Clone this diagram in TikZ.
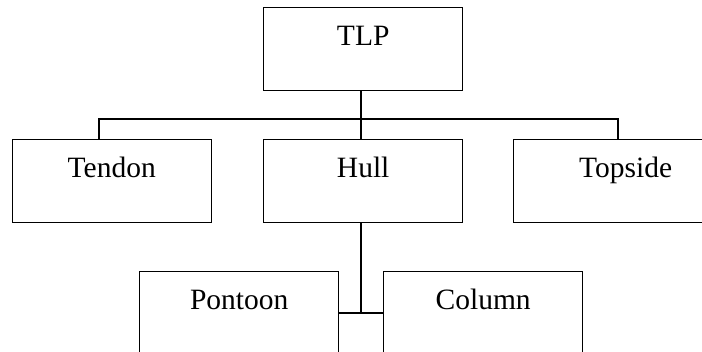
\documentclass[tikz,border=0pt]{standalone}
\usepackage{fontspec}
\setmainfont{Liberation Serif}
\begin{document}
\begin{tikzpicture}[x=1pt,y=-1pt,
  box/.style={draw,line width=1.4pt,rectangle,anchor=north west,
    minimum width=199pt,minimum height=83pt,inner xsep=0pt,inner ysep=0pt,
    text height=38pt,text depth=45pt,
    font=\fontsize{29.5}{35}\selectfont},
  link/.style={line width=1.4pt}]
\path[use as bounding box,clip] (0,0) rectangle (702,352);
\fill[white] (0,0) rectangle (702,352);
\node[box] (tlp) at (263,7) {TLP};
\node[box] (tendon) at (11.5,139) {Tendon};
\node[box] (hull) at (263,139) {Hull};
\node[box,minimum width=224pt] (topside) at (513,139) {Topside};
\node[box] (pontoon) at (139,271) {Pontoon};
\node[box] (column) at (383,271) {Column};
\coordinate (busL) at (99,119);
\coordinate (busR) at (618,119);
\coordinate (j) at (361,313);
\draw[link] (tlp.south -| j) -- (hull.north -| j);
\draw[link] (tendon.north -| busL) -- (busL) -- (busR) -- (topside.north -| busR);
\draw[link] (hull.south -| j) -- (j);
\draw[link] (j -| pontoon.east) -- (j -| column.west);
\end{tikzpicture}
\end{document}
